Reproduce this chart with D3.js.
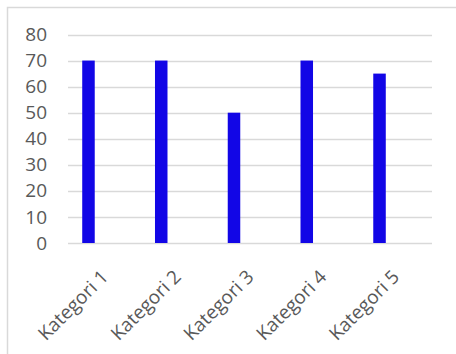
<!DOCTYPE html>
<html><head><meta charset="utf-8">
<script src="https://cdn.jsdelivr.net/npm/d3@7"></script>
<style>html,body{margin:0;padding:0;background:#fff;}svg{display:block;}</style>
</head><body>
<svg id="c" width="456" height="354"></svg>
<script>
const categories = ["Kategori 1","Kategori 2","Kategori 3","Kategori 4","Kategori 5"];
const values = [70, 70, 50, 70, 65];
const yTicks = [0,10,20,30,40,50,60,70,80];

const svg = d3.select("#c");
const W = 456, H = 354;
const gridL = 68, gridR = 432;
const x = d3.scaleBand().domain(categories).range([52.1, 415.9]).paddingInner(0.828).paddingOuter(0.414);
const y = d3.scaleLinear().domain([0,80]).range([243, 34.5]);

// chart border
svg.append("rect").attr("x",7.5).attr("y",7.5).attr("width",W).attr("height",H)
  .attr("fill","none").attr("stroke","#d9d9d9").attr("stroke-width",1.5);

// gridlines
svg.append("g").selectAll("line").data(yTicks).join("line")
  .attr("x1", gridL).attr("x2", gridR)
  .attr("y1", d=>Math.round(y(d))+0.5).attr("y2", d=>Math.round(y(d))+0.5)
  .attr("stroke","#d9d9d9").attr("stroke-width",1.5);

// bars
svg.append("g").selectAll("rect").data(values).join("rect")
  .attr("x",(d,i)=>x(categories[i])).attr("width",x.bandwidth())
  .attr("y",d=>y(d)).attr("height",d=>y(0)-y(d))
  .attr("fill","#1206e6");

// y axis
const ya = d3.axisLeft(y).tickValues(yTicks).tickSize(0).tickPadding(21);
svg.append("g").attr("transform",`translate(${gridL},0)`).call(ya)
  .call(g=>g.select(".domain").remove())
  .selectAll("text").attr("fill","#595959").style("font-family","'Open Sans'").style("font-size","19px");

// x axis labels
const xa = d3.axisBottom(x).tickSize(0).tickPadding(0);
const gx = svg.append("g").attr("transform",`translate(0,${y(0)})`).call(xa);
gx.select(".domain").remove();
gx.selectAll("text")
  .attr("fill","#595959").style("font-family","'Open Sans'").style("font-size","19px")
  .attr("text-anchor","end").attr("dy",null).attr("y",null)
  .attr("transform","translate(21,35) rotate(-45)");
</script>
</body></html>
